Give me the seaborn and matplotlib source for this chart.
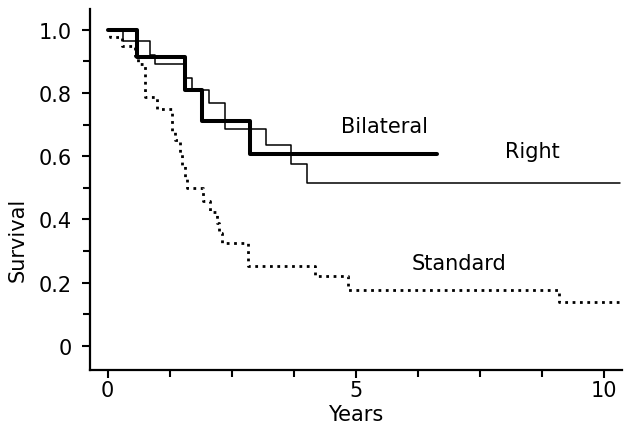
import matplotlib
matplotlib.use("Agg")
import matplotlib.pyplot as plt
import matplotlib.ticker as mticker
import pandas as pd
import seaborn as sns

# step points: survival from each time onward
bilateral_t = [0, 0.58, 1.55, 1.9, 2.86, 6.63]
bilateral_s = [1.0, 0.915, 0.81, 0.71, 0.608, 0.608]

right_t = [0, 0.3, 0.85, 0.95, 1.53, 1.69, 2.04, 2.36, 3.19, 3.69, 4.01, 10.32]
right_s = [1.0, 0.965, 0.92, 0.89, 0.846, 0.81, 0.768, 0.687, 0.636, 0.577, 0.514, 0.514]

standard_t = [0, 0.05, 0.28, 0.55, 0.6, 0.75, 1.0, 1.3, 1.35, 1.45, 1.5, 1.55, 1.6,
              1.92, 2.06, 2.2, 2.25, 2.3, 2.82, 4.17, 4.84, 9.09, 10.3]
standard_s = [1.0, 0.978, 0.947, 0.918, 0.893, 0.787, 0.75, 0.68, 0.65, 0.61, 0.57, 0.53, 0.5,
              0.46, 0.423, 0.39, 0.357, 0.326, 0.254, 0.22, 0.176, 0.138, 0.138]

groups = ["Bilateral", "Right", "Standard"]
label_x = [5.58, 8.55, 7.08]
label_y = [0.696, 0.618, 0.263]

df = pd.concat([
    pd.DataFrame({"Years": bilateral_t, "Survival": bilateral_s, "group": "Bilateral"}),
    pd.DataFrame({"Years": right_t, "Survival": right_s, "group": "Right"}),
    pd.DataFrame({"Years": standard_t, "Survival": standard_s, "group": "Standard"}),
], ignore_index=True)

sns.set_style("ticks")
plt.rcParams["font.family"] = ["DejaVu Sans"]
plt.rcParams["text.color"] = "black"
plt.rcParams["axes.labelcolor"] = "black"

line_kw = {
    "Bilateral": dict(linewidth=2.9, linestyle="-"),
    "Right": dict(linewidth=1.1, linestyle="-"),
    "Standard": dict(linewidth=2.0, linestyle=":"),
}

fig = plt.figure(figsize=(6.24, 4.27), dpi=100)
ax = fig.add_axes([0.144, 0.131, 0.853, 0.846])

for g in groups:
    sub = df[df["group"] == g]
    sns.lineplot(data=sub, x="Years", y="Survival", ax=ax, color="black",
                 estimator=None, sort=False, drawstyle="steps-post", **line_kw[g])

for g, tx, ty in zip(groups, label_x, label_y):
    ax.text(tx, ty, g, fontsize=15, ha="center", va="center", color="black")

ax.set_xlim(-0.36, 10.36)
ax.set_ylim(-0.076, 1.066)
ax.set_xticks([0, 5, 10])
ax.xaxis.set_minor_locator(mticker.MultipleLocator(1.25))
ax.set_yticks([0, 0.2, 0.4, 0.6, 0.8, 1.0])
ax.set_yticklabels(["0", "0.2", "0.4", "0.6", "0.8", "1.0"])
ax.yaxis.set_minor_locator(mticker.MultipleLocator(0.1))

ax.tick_params(axis="both", which="major", labelsize=15, length=6, width=1.5,
               color="black", labelcolor="black")
ax.tick_params(axis="both", which="minor", length=5, width=1.5, color="black")
ax.tick_params(axis="x", which="major", pad=1)
ax.tick_params(axis="y", which="major", pad=7)

ax.set_xlabel("Years", fontsize=15, labelpad=0)
ax.set_ylabel("Survival", fontsize=15)
ax.yaxis.set_label_coords(-0.117, 0.363)
ax.xaxis.set_label_coords(0.5, -0.095)

sns.despine(ax=ax)
for sp in ["left", "bottom"]:
    ax.spines[sp].set_linewidth(1.6)
    ax.spines[sp].set_color("black")

fig.savefig("out.png", dpi=100)
